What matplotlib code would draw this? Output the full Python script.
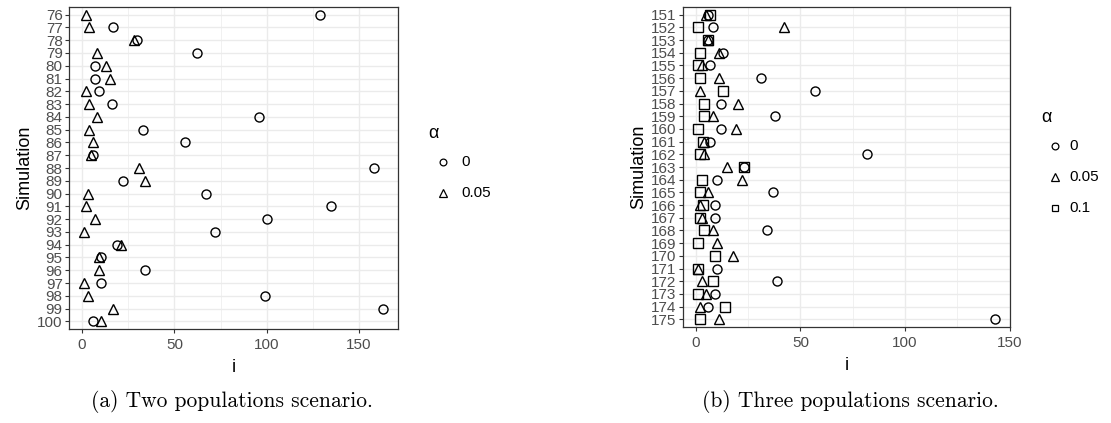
import numpy as np
import matplotlib
matplotlib.use("Agg")
import matplotlib.pyplot as plt
from matplotlib.lines import Line2D

# ---------------- data ----------------
sims_a = list(range(76, 101))
a0_a = [129, 17, 30, 62, 7, 7, 9, 16, 96, 33, 56, 6, 158, 22, 67, 135, 100, 72, 19, 10, 34, 10, 99, 163, 6]
a05_a = [2, 4, 28, 8, 13, 15, 2, 4, 8, 4, 6, 5, 31, 34, 3, 2, 7, 1, 21, 9, 9, 1, 3, 17, 10]

sims_b = list(range(151, 176))
a0_b = [6, 8, 6, 13, 7, 31, 57, 12, 38, 12, 7, 82, 23, 10, 37, 9, 9, 34, np.nan, np.nan, 10, 39, 9, 6, 143]
a05_b = [5, 42, 6, 11, 3, 11, 2, 20, 8, 19, 4, 4, 15, 22, 6, 2, 3, 8, 10, 18, 1, 3, 5, 2, 11]
a10_b = [7, 1, 6, 2, 1, 2, 13, 4, 4, 1, 3.5, 2, 23, 3, 2, 3.5, 2, 4, 1, 9, 1, 8, 1, 14, 2]

legend_title = "α"
levels_a = ["0", "0.05"]
levels_b = ["0", "0.05", "0.1"]
captions = ["(a) Two populations scenario.", "(b) Three populations scenario."]

# ---------------- style ----------------
W, H = 1111, 423
fig = plt.figure(figsize=(W / 100, H / 100), dpi=100)
SANS = ["Liberation Sans", "DejaVu Sans"]
TICKC = "#4D4D4D"
GRID = "#EBEBEB"
BORDER = "#333333"
markers = {"0": ("o", 6.5), "0.05": ("^", 7.5), "0.1": ("s", 6.5)}


def px_axes(l, r, t, b):
    return fig.add_axes([l / W, 1 - b / H, (r - l) / W, (b - t) / H])


def panel(ax, sims, series, levels, xticks, minor):
    n = len(sims)
    ypos = np.arange(n)
    allv = np.concatenate([np.asarray(s, float) for s in series])
    lo, hi = np.nanmin(allv), np.nanmax(allv)
    span = hi - lo
    ax.set_xlim(lo - 0.05 * span, hi + 0.05 * span)
    ax.set_ylim(n - 1 + 0.6, -0.6)
    ax.set_xticks(xticks)
    ax.set_xticks(minor, minor=True)
    ax.set_yticks(ypos)
    ax.set_yticklabels([str(s) for s in sims])
    ax.grid(True, which="major", color=GRID, lw=1.0, zorder=0)
    ax.grid(True, which="minor", axis="x", color=GRID, lw=0.5, zorder=0)
    ax.set_axisbelow(True)
    for sp in ax.spines.values():
        sp.set_color(BORDER)
        sp.set_linewidth(0.9)
    ax.tick_params(axis="both", which="major", colors=BORDER, labelcolor=TICKC,
                   length=3, width=0.8, labelsize=11, pad=1.5)
    ax.tick_params(axis="x", which="major", pad=3.5)
    ax.tick_params(axis="x", which="minor", length=0)
    for lab in ax.get_xticklabels() + ax.get_yticklabels():
        lab.set_family(SANS)
    for vals, lev in zip(series, levels):
        m, ms = markers[lev]
        ax.plot(vals, ypos, linestyle="none", marker=m, markersize=ms,
                markerfacecolor="none", markeredgecolor="black",
                markeredgewidth=1.0, zorder=3)
    ax.set_xlabel("i", family=SANS, fontsize=13, labelpad=5)
    ax.set_ylabel("Simulation", family=SANS, fontsize=13, labelpad=3)


ax1 = px_axes(69, 398, 7, 329)
panel(ax1, sims_a, [a0_a, a05_a], levels_a, [0, 50, 100, 150], [25, 75, 125])

ax2 = px_axes(683, 1010, 7, 327)
panel(ax2, sims_b, [a0_b, a05_b, a10_b], levels_b, [0, 50, 100, 150], [25, 75, 125])


def legend(title_xy, mx, tx, ys, levels):
    fig.text(title_xy[0] / W, 1 - title_xy[1] / H, legend_title, family=SANS,
             fontsize=13, ha="left", va="center")
    for y, lev in zip(ys, levels):
        m, ms = markers[lev]
        fig.add_artist(Line2D([mx / W], [1 - y / H], transform=fig.transFigure,
                              marker=m, markersize=ms * 0.75, linestyle="none",
                              markerfacecolor="none", markeredgecolor="black",
                              markeredgewidth=0.9))
        fig.text(tx / W, 1 - y / H, lev, family=SANS, fontsize=11,
                 ha="left", va="center")


legend((428, 133), 443, 461, [162, 193], levels_a)
legend((1041, 118), 1055, 1069, [146, 177, 208], levels_b)

fig.text(232 / W, 1 - 401 / H, captions[0], family=["cmr10", "DejaVu Serif"],
         fontsize=15.5, ha="center", va="center")
fig.text(850 / W, 1 - 401 / H, captions[1], family=["cmr10", "DejaVu Serif"],
         fontsize=15.5, ha="center", va="center")

fig.savefig("out.png", dpi=100)
